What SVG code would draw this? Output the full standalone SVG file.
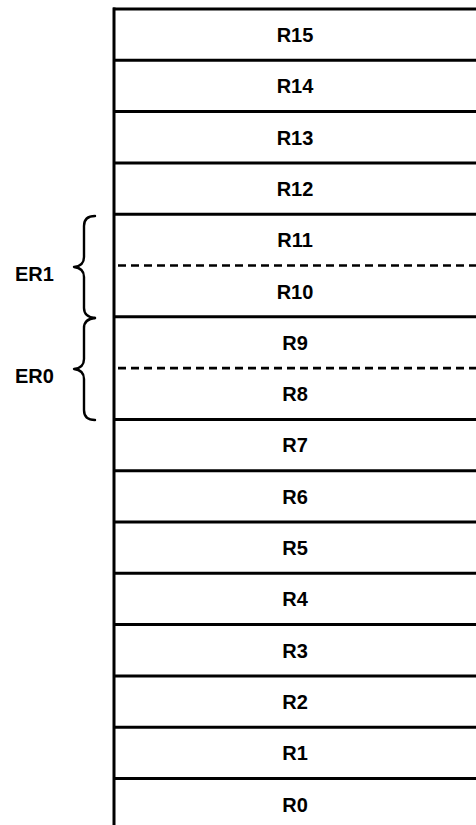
<svg xmlns="http://www.w3.org/2000/svg" width="476" height="825" viewBox="0 0 476 825">
<style>
.ln{stroke:#000;stroke-width:3;fill:none}
.ds{stroke:#000;stroke-width:2.6;fill:none;stroke-dasharray:8 5}
.br{stroke:#000;stroke-width:2.4;fill:none;stroke-linecap:round;stroke-linejoin:round}
.t{font-family:"Liberation Sans",Arial,sans-serif;font-weight:bold;font-size:20px;fill:#000;text-anchor:middle}
.l{font-family:"Liberation Sans",Arial,sans-serif;font-weight:bold;font-size:20px;fill:#000}
</style>
<rect width="476" height="825" fill="#fff"/>
<g id="frame">
<line class="ln" x1="114" y1="7.5" x2="114" y2="825"/>
<line class="ln" x1="113" y1="9" x2="476" y2="9"/>
</g>
<g id="R15"><line class="ln" x1="113" y1="60.3" x2="476" y2="60.3"/><text class="t" x="295" y="42">R15</text></g>
<g id="R14"><line class="ln" x1="113" y1="111.6" x2="476" y2="111.6"/><text class="t" x="295" y="93.3">R14</text></g>
<g id="R13"><line class="ln" x1="113" y1="162.9" x2="476" y2="162.9"/><text class="t" x="295" y="144.6">R13</text></g>
<g id="R12"><line class="ln" x1="113" y1="214.2" x2="476" y2="214.2"/><text class="t" x="295" y="195.9">R12</text></g>
<g id="R11"><line class="ds" x1="118" y1="265.5" x2="476" y2="265.5"/><text class="t" x="295" y="247.2">R11</text></g>
<g id="R10"><line class="ln" x1="113" y1="316.8" x2="476" y2="316.8"/><text class="t" x="295" y="298.5">R10</text></g>
<g id="R9"><line class="ds" x1="118" y1="368.1" x2="476" y2="368.1"/><text class="t" x="295" y="349.8">R9</text></g>
<g id="R8"><line class="ln" x1="113" y1="419.4" x2="476" y2="419.4"/><text class="t" x="295" y="401.1">R8</text></g>
<g id="R7"><line class="ln" x1="113" y1="470.7" x2="476" y2="470.7"/><text class="t" x="295" y="452.4">R7</text></g>
<g id="R6"><line class="ln" x1="113" y1="522" x2="476" y2="522"/><text class="t" x="295" y="503.7">R6</text></g>
<g id="R5"><line class="ln" x1="113" y1="573.3" x2="476" y2="573.3"/><text class="t" x="295" y="555">R5</text></g>
<g id="R4"><line class="ln" x1="113" y1="624.6" x2="476" y2="624.6"/><text class="t" x="295" y="606.3">R4</text></g>
<g id="R3"><line class="ln" x1="113" y1="675.9" x2="476" y2="675.9"/><text class="t" x="295" y="657.6">R3</text></g>
<g id="R2"><line class="ln" x1="113" y1="727.2" x2="476" y2="727.2"/><text class="t" x="295" y="708.9">R2</text></g>
<g id="R1"><line class="ln" x1="113" y1="778.5" x2="476" y2="778.5"/><text class="t" x="295" y="760.2">R1</text></g>
<g id="R0"><text class="t" x="295" y="811.5">R0</text></g>
<g id="ER1">
<path class="br" d="M95,216 Q84,216 84,226 L84,257 Q84,266 74,267 Q84,268 84,277 L84,308 Q84,317 95,318"/>
<text class="l" x="15" y="281">ER1</text>
</g>
<g id="ER0">
<path class="br" d="M95,318 Q84,319 84,328 L84,359 Q84,368 74,369 Q84,370 84,379 L84,410 Q84,420 95,420"/>
<text class="l" x="15" y="383">ER0</text>
</g>
</svg>
